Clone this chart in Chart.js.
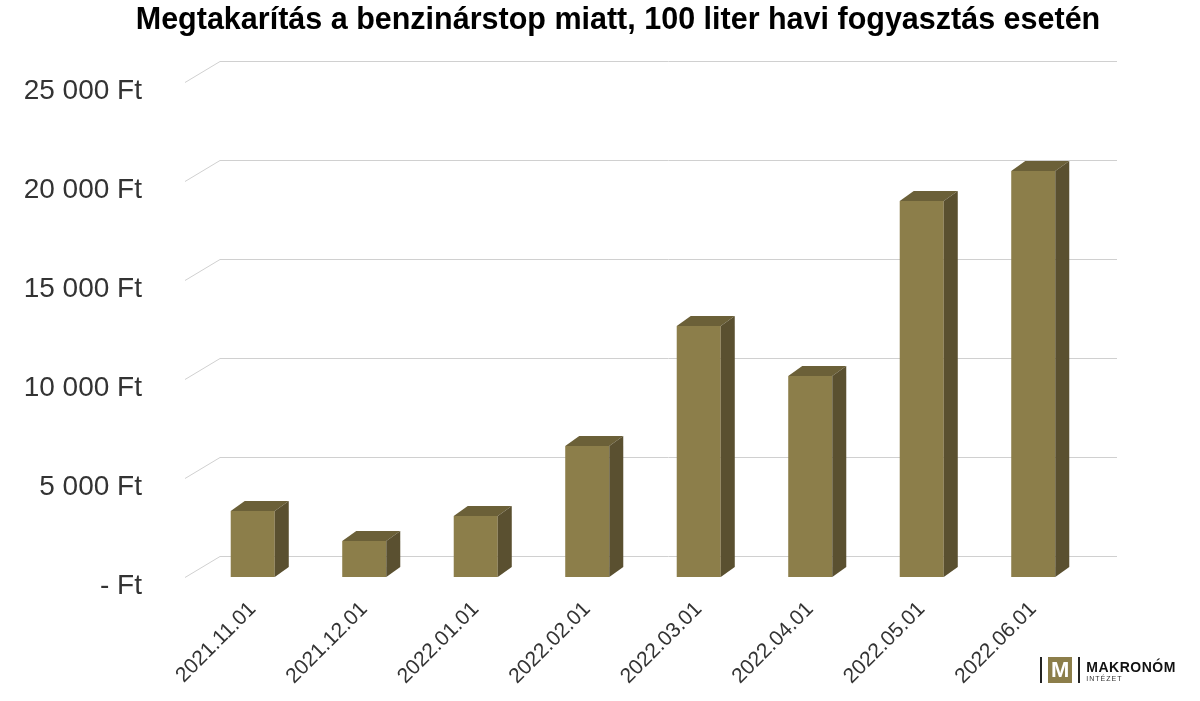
<!DOCTYPE html>
<html><head><meta charset="utf-8">
<script src="https://cdn.jsdelivr.net/npm/chart.js@4"></script>
<style>
body{margin:0;background:#fff;font-family:"Liberation Sans",Arial,sans-serif}
#wrap{position:relative;width:1200px;height:701px}
#title{position:absolute;left:0;width:1236px;top:0;text-align:center;font-weight:bold;font-size:30.5px;color:#000;line-height:36px}
#logo{position:absolute;left:1040px;top:655px;height:30px;display:flex;align-items:center;font-family:"Liberation Sans",Arial}
</style></head><body>
<div id="wrap">
<canvas id="c" width="1200" height="701"></canvas>
<div id="title">Megtakarítás a benzinárstop miatt, 100 liter havi fogyasztás esetén</div>
<div id="logo"><span style="width:2px;height:26px;background:#222;margin-right:6px"></span><span style="background:#8c7e4a;color:#fff;font-weight:bold;font-size:22px;padding:0 3px;line-height:26px">M</span><span style="width:2px;height:26px;background:#222;margin:0 6px"></span><span style="display:flex;flex-direction:column"><span style="font-weight:bold;font-size:14px;letter-spacing:0.5px;color:#111">MAKRONÓM</span><span style="font-size:7px;letter-spacing:1px;color:#333">INTÉZET</span></span></div>
</div>
<script>
const categories=["2021.11.01","2021.12.01","2022.01.01","2022.02.01","2022.03.01","2022.04.01","2022.05.01","2022.06.01"];
const savings=[3330,1820,3080,6620,12680,10150,18990,20500];
const tickValues=[0,5000,10000,15000,20000,25000];
const fmt=v=>v===0?"- Ft":(v/1000)+" 000 Ft";
const three={id:'three',
beforeDatasetsDraw(ch){const c=ch.ctx,y=ch.scales.y;c.save();c.strokeStyle='#d0d0d0';c.lineWidth=1;
 tickValues.forEach(v=>{const p=Math.round(y.getPixelForValue(v))+0.5;c.beginPath();c.moveTo(185,p);c.lineTo(220,p-21);c.lineTo(1117,p-21);c.stroke();});c.restore();},
afterDatasetsDraw(ch){const c=ch.ctx,dx=14,dy=10;c.save();
 ch.getDatasetMeta(0).data.forEach(b=>{const l=b.x-b.width/2,r=b.x+b.width/2,t=b.y,bt=b.base;
  c.fillStyle='#6b6038';c.beginPath();c.moveTo(l,t);c.lineTo(l+dx,t-dy);c.lineTo(r+dx,t-dy);c.lineTo(r,t);c.closePath();c.fill();
  c.fillStyle='#5a5030';c.beginPath();c.moveTo(r,t);c.lineTo(r+dx,t-dy);c.lineTo(r+dx,bt-dy);c.lineTo(r,bt);c.closePath();c.fill();});
 c.restore();}};
new Chart(document.getElementById('c'),{type:'bar',
data:{labels:categories,datasets:[{data:savings,backgroundColor:'#8c7e4a',barPercentage:0.79,categoryPercentage:0.5}]},
options:{responsive:false,animation:false,layout:{padding:{left:0,right:111,top:82,bottom:0}},
plugins:{legend:{display:false},tooltip:{enabled:false}},
scales:{
x:{grid:{display:false},border:{display:false},afterFit:s=>{s.height=124},
 ticks:{minRotation:45,maxRotation:45,padding:12,color:'#333',font:{family:'Liberation Sans',size:21}}},
y:{min:0,max:25000,grid:{display:false},border:{display:false},afterFit:s=>{s.width=197},
 afterBuildTicks:s=>{s.ticks=tickValues.map(v=>({value:v}))},
 ticks:{padding:47,labelOffset:9,color:'#333',font:{family:'Liberation Sans',size:28},callback:v=>fmt(v)}}}},
plugins:[three]});
</script></body></html>
